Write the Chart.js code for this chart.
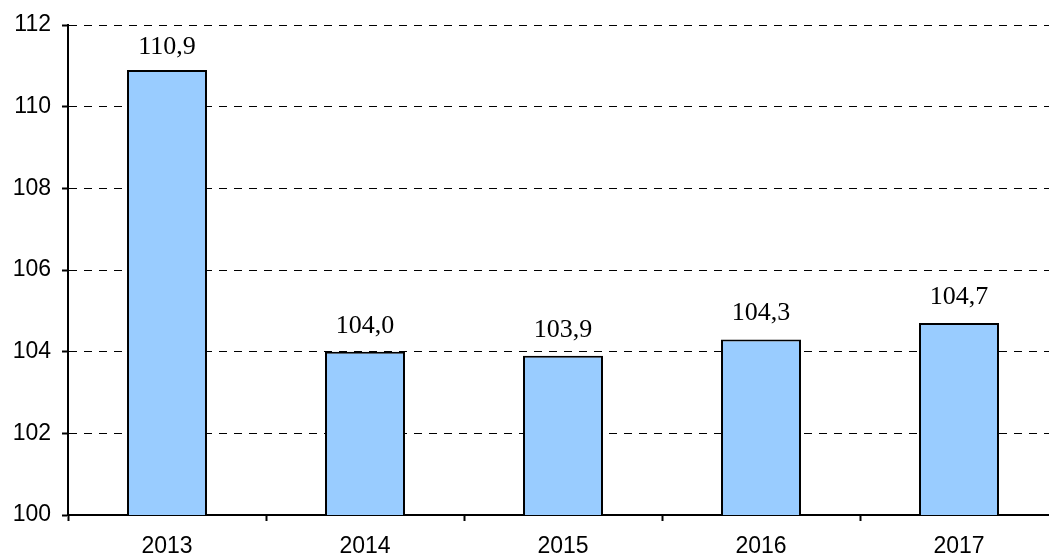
<!DOCTYPE html>
<html>
<head>
<meta charset="utf-8">
<script src="https://cdn.jsdelivr.net/npm/chart.js@4"></script>
<style>
  html, body { margin: 0; padding: 0; background: #fff; overflow: hidden; }
  #wrap { position: relative; width: 1070px; height: 558px; }
</style>
</head>
<body>
<div id="wrap"><canvas id="myChart"></canvas></div>
<script>
var years = ['2013', '2014', '2015', '2016', '2017'];
var values = [110.9, 104.0, 103.9, 104.3, 104.7];
var yMin = 100;
var yMax = 112;
var yStep = 2;

// подписи над столбцами, с запятой
var valueLabels = {
  id: 'valueLabels',
  afterDatasetsDraw: function (chart) {
    var ctx = chart.ctx;
    var meta = chart.getDatasetMeta(0);
    ctx.save();
    ctx.font = '26px "Liberation Serif", "Times New Roman", serif';
    ctx.fillStyle = '#000';
    ctx.textAlign = 'center';
    ctx.textBaseline = 'alphabetic';
    meta.data.forEach(function (bar, i) {
      var txt = values[i].toFixed(1).replace('.', ',');
      ctx.fillText(txt, bar.x, bar.y - (i === 0 ? 16 : 19));
    });
    ctx.restore();
  }
};

var ctx = document.getElementById('myChart').getContext('2d');
var myChart = new Chart(ctx, {
  type: 'bar',
  data: {
    labels: years,
    datasets: [{
      data: values,
      backgroundColor: '#99CCFF',
      borderColor: '#000',
      borderWidth: 2,
      borderSkipped: 'bottom',
      categoryPercentage: 1,
      barPercentage: 0.404
    }]
  },
  options: {
    responsive: true,
    maintainAspectRatio: false,
    animation: false,
    layout: { padding: { top: 25, right: 12, left: 0, bottom: 0 } },
    plugins: {
      legend: { display: false },
      tooltip: { enabled: false }
    },
    scales: {
      x: {
        offset: true,
        grid: {
          offset: true,
          drawOnChartArea: false,
          drawTicks: true,
          tickLength: 6,
          tickWidth: 2,
          tickColor: '#000'
        },
        border: { display: true, color: '#000', width: 2 },
        ticks: {
          color: '#000',
          padding: 12,
          font: { family: '"Liberation Sans", Arial, sans-serif', size: 23 }
        },
        afterFit: function (scale) { scale.height = 43; }
      },
      y: {
        min: yMin,
        max: yMax,
        grid: {
          color: '#000',
          lineWidth: 1,
          drawTicks: true,
          tickLength: 6,
          tickWidth: 2,
          tickColor: '#000',
          tickBorderDash: []
        },
        border: { display: true, color: '#000', width: 2, dash: [8, 7] },
        ticks: {
          stepSize: yStep,
          color: '#000',
          padding: 11,
          font: { family: '"Liberation Sans", Arial, sans-serif', size: 23 }
        },
        afterFit: function (scale) { scale.width = 68; }
      }
    }
  },
  plugins: [valueLabels]
});
</script>
</body>
</html>
